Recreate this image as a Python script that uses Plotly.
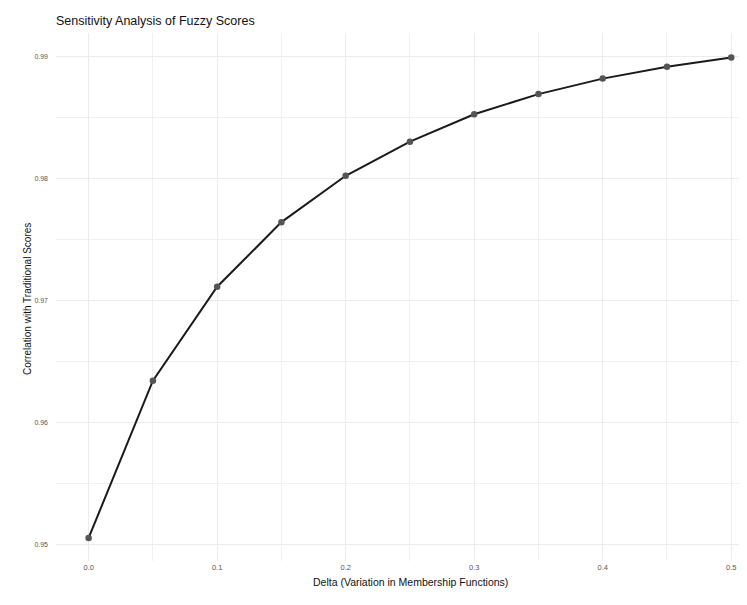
import plotly.graph_objects as go

delta = [0.0, 0.05, 0.1, 0.15, 0.2, 0.25, 0.3, 0.35, 0.4, 0.45, 0.5]
correlation = [0.9505, 0.9634, 0.9711, 0.9764, 0.9802, 0.9830, 0.98525, 0.9869, 0.98817, 0.98915, 0.9899]

title_text = "Sensitivity Analysis of Fuzzy Scores"
x_title = "Delta (Variation in Membership Functions)"
y_title = "Correlation with Traditional Scores"

FONT = "Liberation Sans, Arial, sans-serif"

fig = go.Figure()
fig.add_trace(go.Scatter(
    x=delta, y=correlation, mode="lines+markers",
    line=dict(color="#1a1a1a", width=2),
    marker=dict(color="#555555", size=6.5),
    showlegend=False,
))

fig.update_layout(
    width=747, height=605,
    margin=dict(l=48, r=0, t=25, b=52),
    paper_bgcolor="white", plot_bgcolor="white",
    font=dict(family=FONT, color="#222222"),
    title=dict(text=title_text, x=48/747, xanchor="left", y=1 - 13/605, yanchor="middle",
               font=dict(size=12.5, color="#111111", family=FONT)),
    xaxis=dict(
        range=[-0.0254, 0.5185], tick0=0, dtick=0.1, tickformat=".1f",
        showgrid=True, gridcolor="#EBEBEB", gridwidth=1,
        minor=dict(dtick=0.05, showgrid=True, gridcolor="#F0F0F0", gridwidth=0.7),
        zeroline=False, showline=False, ticks="",
        tickfont=dict(size=7.5, color="#555555"),
    ),
    yaxis=dict(
        range=[0.94861, 0.99191], tick0=0.95, dtick=0.01, tickformat=".2f",
        showgrid=True, gridcolor="#EBEBEB", gridwidth=1,
        minor=dict(dtick=0.005, showgrid=True, gridcolor="#F0F0F0", gridwidth=0.7),
        zeroline=False, showline=False, ticks="",
        tickfont=dict(size=7, color="#555555"),
        ticklabelstandoff=7,
    ),
    annotations=[
        dict(text=x_title, xref="paper", yref="paper", x=(402.5-48)/699, y=-(574-553)/528,
             xanchor="center", yanchor="middle", showarrow=False,
             font=dict(size=10.5, color="#111111", family=FONT)),
        dict(text=y_title, xref="paper", yref="paper", x=-(48-19)/699, y=(553-291)/528,
             xanchor="center", yanchor="middle", showarrow=False, textangle=-90,
             font=dict(size=10, color="#111111", family=FONT)),
    ],
)

fig.write_html("out.html")
